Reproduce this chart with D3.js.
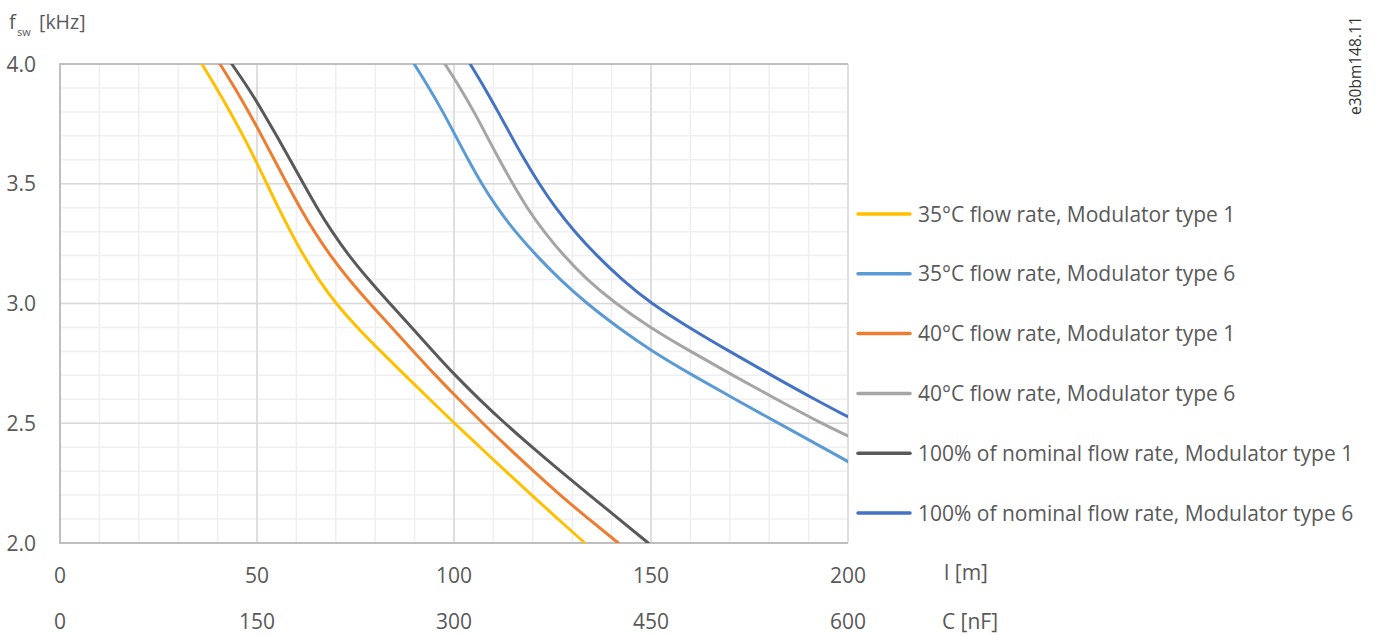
<!DOCTYPE html>
<html>
<head>
<meta charset="utf-8">
<script src="https://cdn.jsdelivr.net/npm/d3@7"></script>
<style>
  html, body { margin: 0; padding: 0; background: #fff; }
  svg text { font-family: "Open Sans", "Noto Sans", sans-serif; fill: #595959; }
</style>
</head>
<body>
<svg id="chart" width="1383" height="635"></svg>
<script>
// ---- data ----
const lengthTicks = [0, 50, 100, 150, 200];          // l [m]
const capTicks = [0, 150, 300, 450, 600];            // C [nF]
const fswTicks = [2.0, 2.5, 3.0, 3.5, 4.0];          // f_sw [kHz]

const seriesNames = [
  "35°C flow rate, Modulator type 1",
  "35°C flow rate, Modulator type 6",
  "40°C flow rate, Modulator type 1",
  "40°C flow rate, Modulator type 6",
  "100% of nominal flow rate, Modulator type 1",
  "100% of nominal flow rate, Modulator type 6"
];
const seriesColors = ["#FFC000", "#5B9BD5", "#ED7D31", "#A5A5A5", "#595959", "#4472C4"];

// f levels for the points of each curve
const fLevelsLeft = [4.0, 3.9, 3.8, 3.7, 3.6, 3.5, 3.4, 3.3, 3.2, 3.1, 3.0, 2.9, 2.8, 2.7, 2.6, 2.5, 2.4, 2.3, 2.2, 2.1, 2.0];
const t35m1_l = [36.0, 39.7, 43.2, 46.5, 49.6, 52.5, 55.4, 58.5, 61.8, 65.6, 70.0, 75.4, 81.4, 87.6, 93.8, 100.1, 106.6, 113.1, 119.7, 126.4, 133.2];
const t40m1_l = [40.6, 44.4, 47.9, 51.2, 54.4, 57.6, 60.9, 64.5, 68.6, 73.3, 78.6, 84.2, 89.7, 95.3, 101.2, 107.3, 113.6, 120.2, 126.9, 134.2, 141.7];
const nomM1_l = [43.6, 47.8, 51.5, 55.0, 58.4, 61.8, 65.2, 69.0, 73.3, 78.3, 83.7, 89.3, 94.7, 100.3, 106.4, 112.9, 119.8, 127.0, 134.4, 141.9, 149.3];

const t35m6_f = [4.0, 3.9, 3.8, 3.7, 3.6, 3.5, 3.4, 3.3, 3.2, 3.1, 3.0, 2.9, 2.8, 2.7, 2.6, 2.5, 2.34];
const t35m6_l = [89.9, 93.7, 97.2, 100.4, 103.6, 107.0, 110.9, 115.5, 120.9, 126.9, 133.7, 141.6, 150.3, 160.6, 171.3, 182.4, 200];
const t40m6_f = [4.0, 3.9, 3.8, 3.7, 3.6, 3.5, 3.4, 3.3, 3.2, 3.1, 3.0, 2.9, 2.8, 2.7, 2.6, 2.5, 2.447];
const t40m6_l = [97.7, 101.6, 105.1, 108.3, 111.5, 114.9, 118.5, 122.8, 127.8, 133.7, 141.0, 149.7, 160.0, 170.8, 181.8, 193.2, 200];
const nomM6_f = [4.0, 3.9, 3.8, 3.7, 3.6, 3.5, 3.4, 3.3, 3.2, 3.1, 3.0, 2.9, 2.8, 2.7, 2.6, 2.527];
const nomM6_l = [104.1, 107.8, 111.2, 114.5, 117.9, 121.6, 125.7, 130.6, 136.2, 142.6, 150.0, 159.6, 169.9, 180.6, 191.5, 200];

const seriesL = [t35m1_l, t35m6_l, t40m1_l, t40m6_l, nomM1_l, nomM6_l];
const seriesF = [fLevelsLeft, t35m6_f, fLevelsLeft, t40m6_f, fLevelsLeft, nomM6_f];

// ---- layout ----
const svg = d3.select("#chart");
const plot = { left: 60, right: 848, top: 64, bottom: 543 };
const FS = 21;

const x = d3.scaleLinear().domain([0, 200]).range([plot.left, plot.right]);
const xC = d3.scaleLinear().domain([0, 600]).range([plot.left, plot.right]);
const y = d3.scaleLinear().domain([2.0, 4.0]).range([plot.bottom, plot.top]);

// minor grid
const g = svg.append("g");
g.selectAll("line.vminor").data(d3.range(0, 201, 10)).join("line")
  .attr("x1", d => x(d)).attr("x2", d => x(d))
  .attr("y1", plot.top).attr("y2", plot.bottom)
  .attr("stroke", "#efefef").attr("stroke-width", 1.5);
g.selectAll("line.hminor").data(d3.range(20, 41, 1).map(d => d / 10)).join("line")
  .attr("x1", plot.left).attr("x2", plot.right)
  .attr("y1", d => y(d)).attr("y2", d => y(d))
  .attr("stroke", "#efefef").attr("stroke-width", 1.5);
// major grid
g.selectAll("line.vmajor").data(lengthTicks).join("line")
  .attr("x1", d => x(d)).attr("x2", d => x(d))
  .attr("y1", plot.top).attr("y2", plot.bottom)
  .attr("stroke", "#d9d9d9").attr("stroke-width", 1.5);
g.selectAll("line.hmajor").data(fswTicks).join("line")
  .attr("x1", plot.left).attr("x2", plot.right)
  .attr("y1", d => y(d)).attr("y2", d => y(d))
  .attr("stroke", "#d9d9d9").attr("stroke-width", 1.5);
// border (left, top, bottom)
svg.append("path")
  .attr("d", `M${plot.right},${plot.top}H${plot.left}V${plot.bottom}H${plot.right}`)
  .attr("fill", "none").attr("stroke", "#bfbfbf").attr("stroke-width", 2);

// curves
svg.append("clipPath").attr("id", "clip").append("rect")
  .attr("x", plot.left).attr("y", plot.top)
  .attr("width", plot.right - plot.left).attr("height", plot.bottom - plot.top);

const line = d3.line()
  .x(d => x(d[0])).y(d => y(d[1]))
  .curve(d3.curveBasis);

const order = [0, 2, 4, 1, 3, 5];
svg.append("g").attr("clip-path", "url(#clip)")
  .selectAll("path").data(order).join("path")
  .attr("d", i => line(seriesL[i].map((l, k) => [l, seriesF[i][k]])))
  .attr("fill", "none")
  .attr("stroke", i => seriesColors[i])
  .attr("stroke-width", 3)
  .attr("stroke-linecap", "round");

// y tick labels
svg.append("g").selectAll("text").data(fswTicks).join("text")
  .attr("x", 36).attr("y", d => y(d) + 7.5)
  .attr("text-anchor", "end").attr("font-size", FS)
  .text(d => d.toFixed(1));

// y axis title
svg.append("text").attr("x", 9).attr("y", 29).attr("font-size", 20).text("f");
svg.append("text").attr("x", 17).attr("y", 36).attr("font-size", 11).text("sw");
svg.append("text").attr("x", 39).attr("y", 29).attr("font-size", 19.5).text("[kHz]");

// x tick labels, l [m]
svg.append("g").selectAll("text").data(lengthTicks).join("text")
  .attr("x", d => x(d)).attr("y", 583)
  .attr("text-anchor", "middle").attr("font-size", FS)
  .text(d => d);
svg.append("text").attr("x", 966).attr("y", 580)
  .attr("text-anchor", "middle").attr("font-size", FS).text("l [m]");

// x tick labels, C [nF]
svg.append("g").selectAll("text").data(capTicks).join("text")
  .attr("x", d => xC(d)).attr("y", 629)
  .attr("text-anchor", "middle").attr("font-size", FS)
  .text(d => d);
svg.append("text").attr("x", 970).attr("y", 629)
  .attr("text-anchor", "middle").attr("font-size", FS).text("C [nF]");

// legend
const legend = svg.append("g").selectAll("g").data(seriesNames).join("g")
  .attr("transform", (d, i) => `translate(0, ${214 + i * 59.8})`);
legend.append("line")
  .attr("x1", 858).attr("x2", 910).attr("y1", 0).attr("y2", 0)
  .attr("stroke", (d, i) => seriesColors[i]).attr("stroke-width", 3.5)
  .attr("stroke-linecap", "round");
legend.append("text")
  .attr("x", 918).attr("y", 7.5).attr("font-size", FS)
  .text(d => d);

// document code, rotated
svg.append("text")
  .attr("transform", "translate(1361, 115) rotate(-90)")
  .attr("font-size", 15.5)
  .style("fill", "#333")
  .text("e30bm148.11");
</script>
</body>
</html>
